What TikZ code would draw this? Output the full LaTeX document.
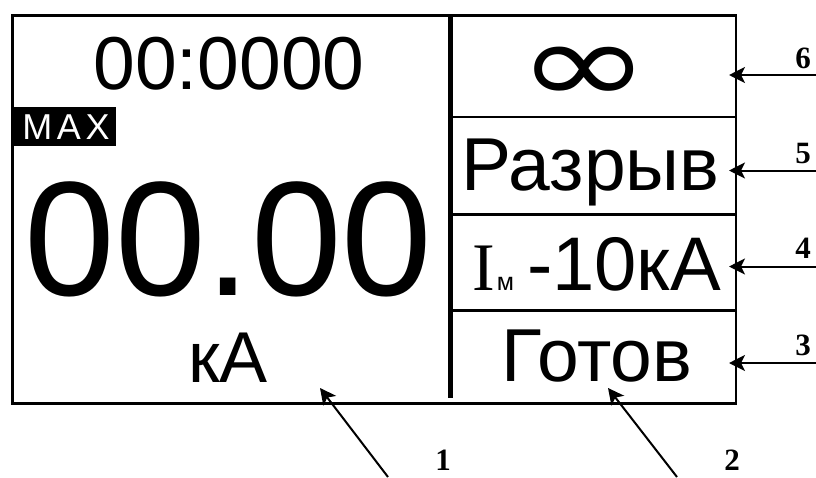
\documentclass[tikz,border=0pt]{standalone}
\usepackage{fontspec}
\setmainfont{Liberation Sans}
\newfontfamily\numfont{Liberation Serif}
\newfontfamily\spacedfont{Liberation Sans}[LetterSpace=13]
\newfontfamily\symfont{DejaVu Sans}
\usetikzlibrary{arrows.meta}
\tikzset{
  lcd/.style={anchor=base,inner sep=0pt,font=\fontsize{#1}{#1}\selectfont},
  num/.style={anchor=base,inner sep=0pt,font=\numfont\bfseries\fontsize{31}{31}\selectfont},
  frameline/.style={line width=2.6pt},
  cellline/.style={line width=2.2pt},
  divider/.style={line width=5pt},
  pointer/.style={line width=2pt,-{Stealth[length=16pt,width=16pt,inset=4pt]}}
}
\begin{document}
\begin{tikzpicture}[x=1pt,y=-1pt]
\useasboundingbox (0,0) rectangle (816,477);
\draw[frameline] (12.5,15.5) rectangle (736,403.5);
\draw[divider] (450,15.5) -- (450,398);
\draw[cellline] (450,117) -- (736,117);
\draw[cellline] (450,214.5) -- (736,214.5);
\draw[cellline] (450,310.5) -- (736,310.5);
\node[lcd=75] (time) at (229,89) {00:0000};
\fill (13,107) rectangle (116,146);
\node[anchor=base,inner sep=0pt,text=white,font=\spacedfont\fontsize{36}{36}\selectfont] (max) at (66,139) {MAX};
\node[lcd=163] (value) at (228.5,295) {00.00};
\node[lcd=72] (unit) at (228,382) {кА};
\node[anchor=center,inner sep=0pt,font=\symfont\fontsize{100}{100}\selectfont] (inf) at (584.5,76) {\scalebox{1.6}[1.18]{∞}};
\node[lcd=75] (break) at (590.5,190) {Разрыв};
\node[anchor=base,inner sep=0pt,font=\numfont\fontsize{68}{68}\selectfont] (im) at (483.5,290) {I};
\node[lcd=25] (imsub) at (505.5,290) {м};
\node[lcd=76] (cur) at (624,290) {-10кА};
\node[lcd=75] (ready) at (597,381) {Готов};
\node[num] (n6) at (803,68) {6};
\node[num] (n5) at (803,163) {5};
\node[num] (n4) at (803,258) {4};
\node[num] (n3) at (803,355) {3};
\node[num] (n1) at (443,470.5) {1};
\node[num] (n2) at (732,470.5) {2};
\coordinate (s6) at (816,75); \coordinate (e6) at (729,75);
\coordinate (s5) at (816,170.5); \coordinate (e5) at (729,170.5);
\coordinate (s4) at (816,266.5); \coordinate (e4) at (729,266.5);
\coordinate (s3) at (816,363); \coordinate (e3) at (729,363);
\coordinate (s1) at (388,477); \coordinate (e1) at (320,388);
\coordinate (s2) at (677,477); \coordinate (e2) at (608,388);
\draw[pointer] (s6) -- (e6);
\draw[pointer] (s5) -- (e5);
\draw[pointer] (s4) -- (e4);
\draw[pointer] (s3) -- (e3);
\draw[pointer] (s1) -- (e1);
\draw[pointer] (s2) -- (e2);
\end{tikzpicture}
\end{document}
